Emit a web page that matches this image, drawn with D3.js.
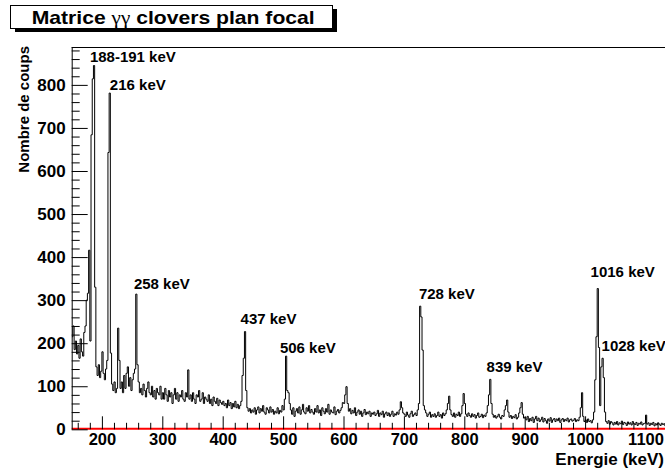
<!DOCTYPE html>
<html><head><meta charset="utf-8">
<script src="https://cdn.jsdelivr.net/npm/d3@7"></script>
<style>
html,body{margin:0;padding:0;background:#fff;}
svg{display:block;}
text{font-family:"Liberation Sans",Arial,Helvetica,sans-serif;font-weight:bold;fill:#000;}
</style></head><body>
<svg id="c" width="665" height="470"></svg>
<script>
// ---- data ----
const binStart = 150;   // keV, lower edge of first bin
const binWidth = 2;     // keV per bin
const counts = [
 215,240,185,205,175,195,165,210,180,170,225,240,300,316,416,205,684,814,845,330,145,125,150,120,135,
 180,130,115,140,160,643,781,177,105,90,110,85,95,235,160,95,110,85,125,95,130,145,100,120,90,
 115,130,140,314,150,110,85,95,80,105,90,75,95,110,85,80,100,75,90,70,95,85,80,100,70,
 85,70,95,80,65,90,75,85,60,80,95,70,85,65,80,75,90,70,65,85,75,138,70,80,65,
 85,70,60,80,75,90,65,70,85,60,75,70,65,80,60,70,55,75,65,60,72,55,68,62,58,
 65,55,60,50,68,55,62,48,60,52,65,50,58,48,55,65,125,165,227,90,50,42,48,38,45,
 40,50,35,45,52,38,48,42,55,40,35,50,45,38,52,40,46,35,42,38,50,36,44,40,55,
 45,70,170,90,85,60,45,35,50,30,42,48,38,52,35,45,58,40,36,50,42,55,38,46,40,
 35,48,40,55,38,45,32,50,42,36,48,40,58,35,45,40,38,52,34,42,46,38,44,50,62,
 60,80,99,60,42,48,36,44,38,50,32,40,45,35,42,30,38,46,34,40,36,42,30,38,35,
 40,32,36,44,30,38,34,42,28,36,40,32,38,30,35,42,30,36,33,40,35,45,64,50,38,
 35,30,40,33,28,36,42,30,34,38,32,45,60,286,261,184,55,45,38,30,35,40,28,34,30,
 36,28,32,40,30,34,26,38,32,36,45,60,77,45,34,30,38,28,35,32,40,30,36,55,83,
 60,35,30,38,32,28,36,30,34,26,32,38,28,30,35,27,33,30,38,55,80,116,60,35,28,
 32,26,30,35,28,24,32,30,45,55,68,40,28,32,25,30,27,34,24,28,38,50,62,35,26,
 28,22,30,18,25,20,28,16,24,30,20,26,18,22,28,17,25,20,14,24,19,27,16,22,25,
 18,24,20,26,16,22,25,18,23,20,26,17,22,24,19,21,25,18,22,20,28,50,85,30,18,
 22,16,24,18,20,15,22,40,115,215,327,190,55,145,165,120,40,18,14,20,12,18,15,10,16,
 12,18,10,15,13,19,11,16,14,9,17,12,15,10,18,13,11,16,9,14,12,17,10,13,14,
 33,12,15,9,14,11,16,8,13,10,15,12,9,14,11,13,8,12,10,14,9,11,13,8,10
];
const xMajorTicks = [200,300,400,500,600,700,800,900,1000,1100];
const yMajorTicks = [0,100,200,300,400,500,600,700,800];
const peakLabels = ["188-191 keV","216 keV","258 keV","437 keV","506 keV","728 keV","839 keV","1016 keV","1028 keV"];
const peakLabelE = [180.1,213.2,253,429.6,494.7,724.8,836.9,1009.1,1027.3];
const peakLabelV = [854,789,326,245,178,302,134,353,181];
const titleMain = "Matrice ";
const titleGreek = "\u03b3\u03b3";
const titleRest = " clovers plan focal";
const xTitle = "Energie (keV)";
const yTitle = "Nombre de coups";

// ---- layout ----
const svg = d3.select("#c");
const L = 71.7, R = 675.7, T = 47, B = 429.3;
const x = d3.scaleLinear().domain([150, 1150]).range([L, R]);
const y = d3.scaleLinear().domain([0, 888]).range([B, T]);

const defs = svg.append("defs");
defs.append("clipPath").attr("id","clip").append("rect")
  .attr("x",L).attr("y",T).attr("width",R-L).attr("height",B-T);

// frame
svg.append("line").attr("x1",L).attr("x2",R).attr("y1",T+0.5).attr("y2",T+0.5)
  .attr("stroke","#000").attr("stroke-width",1);

// histogram
let p = "";
counts.forEach((v,i)=>{
  const x0 = x(binStart + i*binWidth), x1 = x(binStart + (i+1)*binWidth);
  p += (i===0 ? "M" : "L") + x0 + "," + y(v) + "L" + x1 + "," + y(v);
});
svg.append("path").attr("d",p).attr("fill","none").attr("stroke","#000")
  .attr("stroke-width",1).attr("clip-path","url(#clip)");

// red baseline
svg.append("line").attr("x1",L).attr("x2",R).attr("y1",y(0)-0.5).attr("y2",y(0)-0.5)
  .attr("stroke","#ff0000").attr("stroke-width",2);

// axes
const xMinor = d3.range(160, 1150, 20).filter(v=>v%100!==0);
const yMinor = d3.range(20, 888, 20).filter(v=>v%100!==0);

const gx = svg.append("g").attr("transform",`translate(0,${B})`);
gx.append("g").call(d3.axisBottom(x).tickValues(xMinor).tickSize(-6.5).tickFormat(""));
gx.append("g").call(d3.axisBottom(x).tickValues(xMajorTicks).tickSize(-13).tickPadding(4).tickFormat(d3.format("d")));
gx.selectAll(".domain").remove();
gx.selectAll("text").style("font-size","16.5px").attr("font-family",null).attr("font-size",null);

const gy = svg.append("g").attr("transform",`translate(${L},0)`);
gy.append("g").call(d3.axisLeft(y).tickValues(yMinor).tickSize(-8).tickFormat(""));
gy.append("g").call(d3.axisLeft(y).tickValues(yMajorTicks).tickSize(-16).tickPadding(6).tickFormat(d3.format("d")));
gy.selectAll(".domain").remove();
gy.selectAll("text").style("font-size","17px").attr("font-family",null).attr("font-size",null);
svg.selectAll(".tick line").attr("stroke","#000");

svg.append("line").attr("x1",L+0.5).attr("x2",L+0.5).attr("y1",T).attr("y2",B)
  .attr("stroke","#000").attr("stroke-width",1);

// axis titles
svg.append("text").attr("x",664).attr("y",465).attr("text-anchor","end")
  .style("font-size","17px").text(xTitle);
svg.append("text").attr("transform","translate(29,46) rotate(-90)")
  .attr("text-anchor","end").style("font-size","15px").text(yTitle);

// peak labels
peakLabels.forEach((t,i)=>{
  svg.append("text").attr("x",x(peakLabelE[i])).attr("y",y(peakLabelV[i]))
    .style("font-size","15px").text(t);
});

// title box
svg.append("rect").attr("x",15).attr("y",9).attr("width",322).attr("height",23).attr("fill","#000");
svg.append("rect").attr("x",10.5).attr("y",5.5).attr("width",322).attr("height",23)
  .attr("fill","#fff").attr("stroke","#000").attr("stroke-width",1);
const tt = svg.append("text").attr("x",31.7).attr("y",23.5).style("font-size","19px")
  .attr("textLength",283).attr("lengthAdjust","spacingAndGlyphs");
tt.append("tspan").text(titleMain);
tt.append("tspan").style("font-family","'Liberation Serif','DejaVu Serif',serif").style("font-weight","normal").text(titleGreek);
tt.append("tspan").text(titleRest);
</script>
</body></html>
